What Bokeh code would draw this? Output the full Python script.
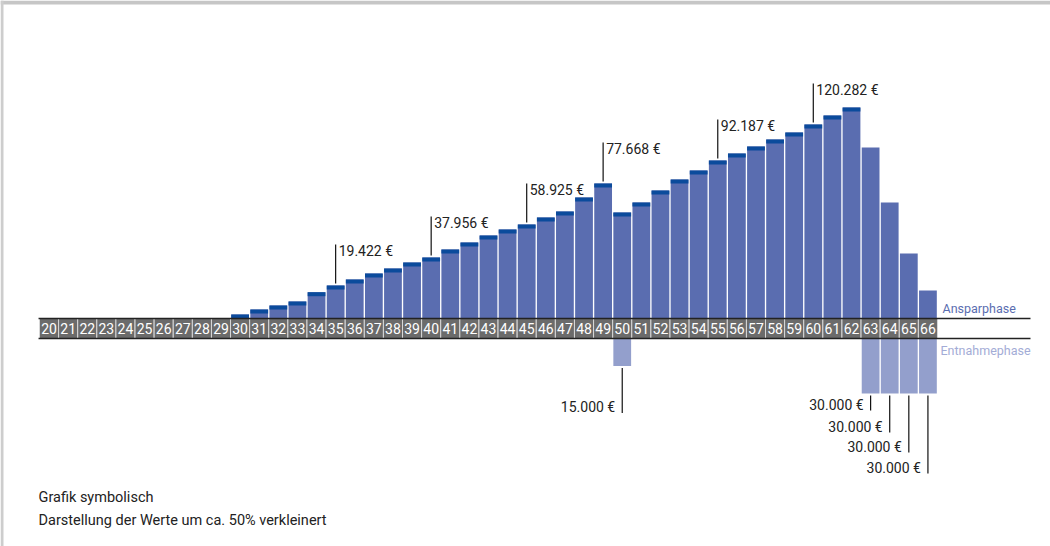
from bokeh.plotting import figure
from bokeh.models import Range1d
from bokeh.embed import file_html
from bokeh.resources import INLINE
from bokeh.core.properties import value

# ---------------- data ----------------
ages = list(range(20, 67))
balance_ages = list(range(30, 67))
balance = [2480, 5580, 8060, 10540, 16300, 20460, 24180, 27900, 31000, 34720,
           37820, 42780, 47120, 51460, 55180, 58280, 62620, 66340, 75020, 83700,
           65720, 71920, 79360, 86180, 91760, 97960, 102300, 106640, 110980, 115320,
           120280, 125860, 130820, 106020, 71920, 40300, 17360]
contribution_ages = list(range(30, 63))
withdraw_ages = [50, 63, 64, 65, 66]
withdraw_values = [15000, 30000, 30000, 30000, 30000]
withdraw_labels = ["15.000 €", "30.000 €", "30.000 €", "30.000 €", "30.000 €"]
marked_ages = [35, 40, 45, 49, 55, 60]
marked_labels = ["19.422 €", "37.956 €", "58.925 €", "77.668 €", "92.187 €", "120.282 €"]
phase_labels = ["Ansparphase", "Entnahmephase"]
notes = ["Grafik symbolisch", "Darstellung der Werte um ca. 50% verkleinert"]

# ---------------- layout constants ----------------
W, H = 1050, 546
PX_X = 19.106            # pixels per year
X_LEFT = 39              # screen x of left edge of first year cell
S = 620.0                # euro per pixel (savings)
BASE_Y = 318             # screen y of savings baseline
BAND = 20                # band height in px
SW = 30000 / 55.0        # euro per pixel (withdrawals)
W_BASE = BASE_Y + BAND

x_start = 19.5 - X_LEFT / PX_X
x_end = x_start + W / PX_X
y_end = BASE_Y * S
y_start = -(H - BASE_Y) * S
w_end = W_BASE * SW
w_start = -(H - W_BASE) * SW


def sx(px):
    return x_start + px / PX_X


def sy(py):
    return (BASE_Y - py) * S


FONT = value("Roboto")
BAR = "#5a6db0"
CAP = "#0b4b9c"
WD = "#939fcc"
BANDC = "#6b6b6b"

p = figure(width=W, height=H, output_backend="svg", toolbar_location=None,
           x_range=Range1d(x_start, x_end), y_range=Range1d(y_start, y_end),
           x_axis_type=None, y_axis_type=None, min_border=0,
           outline_line_color=None)
p.extra_y_ranges = {"w": Range1d(w_start, w_end)}
p.grid.visible = False
p.background_fill_color = "white"
p.border_fill_color = "white"

# page frame (grey edges)
p.quad(left=[x_start], right=[x_end], top=[y_end], bottom=[y_end - 4 * S],
       fill_color="#c6c6c6", line_color=None)
p.quad(left=[x_start], right=[sx(3)], top=[y_end], bottom=[y_start],
       fill_color="#cdcdcd", line_color=None)

# savings bars
p.vbar(x=balance_ages, top=balance, bottom=0, width=0.93,
       fill_color=BAR, line_color=None)
cap_tops = [balance[balance_ages.index(a)] for a in contribution_ages]
cap_bottoms = [max(0, t - 4 * S) for t in cap_tops]
p.vbar(x=contribution_ages, top=cap_tops, bottom=cap_bottoms, width=0.93,
       fill_color=CAP, line_color=None)

# withdrawal bars
p.vbar(x=withdraw_ages, top=0, bottom=[-v for v in withdraw_values], width=0.93,
       fill_color=WD, line_color=None, y_range_name="w")

# age band
p.rect(x=ages, y=-BAND / 2 * S, width=1, height=BAND * S,
       fill_color=BANDC, line_color="#d8d8d8", line_width=1)
p.text(x=ages, y=[-BAND / 2 * S] * len(ages), text=[str(a) for a in ages],
       text_align="center", text_baseline="middle", text_color="white",
       text_font=FONT, text_font_size="14px")
line_right = 19.5 + (1030 - X_LEFT) / PX_X
p.segment(x0=[19.45, 19.45], y0=[0, -BAND * S], x1=[line_right, line_right],
          y1=[0, -BAND * S], line_color="#222222", line_width=1.3)

# marked savings labels
tops = [balance[balance_ages.index(a)] for a in marked_ages]
p.segment(x0=marked_ages, x1=marked_ages, y0=[t + 2 * S for t in tops],
          y1=[t + 41 * S for t in tops], line_color="#111111", line_width=1.2)
p.text(x=[a + 3 / PX_X for a in marked_ages], y=[t + 43 * S for t in tops],
       text=marked_labels, text_align="left", text_baseline="top",
       text_color="#222222", text_font=FONT, text_font_size="14px")

# withdrawal labels
drops = [41, 11, 33, 53, 74]
p.segment(x0=withdraw_ages, x1=withdraw_ages,
          y0=[-(v + 2 * SW) for v in withdraw_values],
          y1=[-(v + (d + 6) * SW) for v, d in zip(withdraw_values, drops)],
          line_color="#111111", line_width=1.2, y_range_name="w")
p.text(x=[a - 7 / PX_X for a in withdraw_ages],
       y=[-(v + d * SW) for v, d in zip(withdraw_values, drops)],
       text=withdraw_labels, text_align="right", text_baseline="middle",
       text_color="#222222", text_font=FONT, text_font_size="14px",
       y_range_name="w")

# phase labels
p.text(x=[sx(942), sx(940)], y=[sy(308), sy(350)], text=phase_labels,
       text_align="left", text_baseline="middle",
       text_color=[BAR, "#a3acd6"], text_font=FONT, text_font_size="12.5px")

# notes
p.text(x=[sx(38), sx(38)], y=[sy(497), sy(520)], text=notes,
       text_align="left", text_baseline="middle", text_color="#222222",
       text_font=FONT, text_font_size="14.5px")

open("out.html", "w").write(file_html(p, INLINE))
